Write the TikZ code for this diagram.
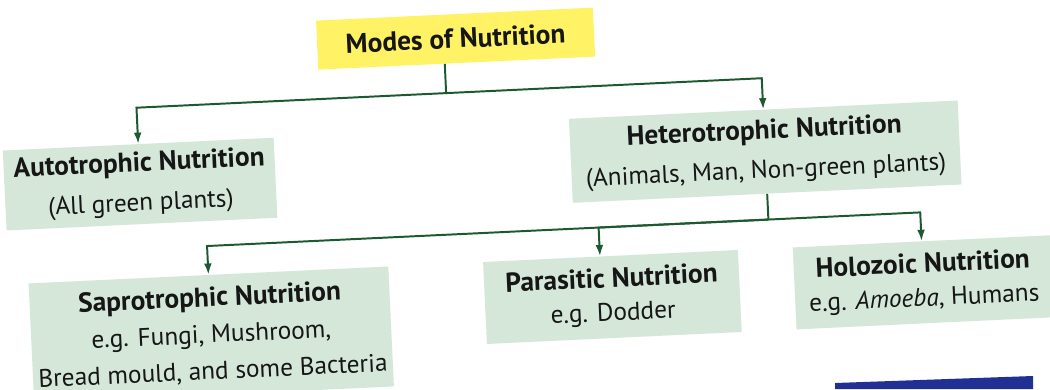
\documentclass[tikz,border=0pt]{standalone}
\usepackage{fontspec}
\setmainfont{PT Sans}
\usetikzlibrary{arrows.meta,calc}
\definecolor{boxgreen}{RGB}{212,231,216}
\definecolor{boxyellow}{RGB}{255,242,100}
\definecolor{linegreen}{RGB}{28,88,48}
\definecolor{txt}{RGB}{22,22,22}
\definecolor{navy}{RGB}{32,48,148}
\newcommand\boxtitle[1]{{\fontsize{19.5}{20}\selectfont\bfseries #1}}
\begin{document}
\begin{tikzpicture}[x=0.025cm,y=-0.025cm,
  box/.style={fill=boxgreen, inner sep=0pt, align=center, text=txt,
    font=\fontsize{18}{#1}\selectfont},
  box/.default=26.5pt,
  conn/.style={draw=linegreen, line width=1.4pt},
  arr/.style={conn, -{Latex[length=8pt,width=5.5pt]}}]
\useasboundingbox[fill=white] (0,0) rectangle (1050,389);
\fill[navy] (835,383) -- (1033,376) -- (1033,389) -- (835,389) -- cycle;
\begin{scope}[rotate around={2.7:(525,195)}, transform shape]
  \node[box, fill=boxyellow, minimum width=6.925cm, minimum height=1.225cm]
    (modes) at (463,35.5) {\boxtitle{Modes of Nutrition}};
  \node[box=28pt, minimum width=6.775cm, minimum height=2.0cm]
    (auto) at (141,166) {\boxtitle{Autotrophic Nutrition}\\(All green plants)};
  \node[box=28pt, minimum width=9.725cm, minimum height=2.1cm]
    (hetero) at (767,163) {\boxtitle{Heterotrophic Nutrition}\\(Animals, Man, Non-green plants)};
  \node[box=26pt, minimum width=9.0cm, minimum height=3.0cm]
    (sapro) at (205,320) {\boxtitle{Saprotrophic Nutrition}\\e.g. Fungi, Mushroom,\\Bread mould, and some Bacteria};
  \node[box=24pt, minimum width=6.375cm, minimum height=2.05cm]
    (para) at (607.5,301) {\boxtitle{Parasitic Nutrition}\\e.g. Dodder};
  \node[box=24pt, minimum width=6.45cm, minimum height=2.05cm]
    (holo) at (919,301) {\boxtitle{Holozoic Nutrition}\\e.g. \textit{Amoeba}, Humans};
  % first level connectors
  \coordinate (j1) at (451,89.5);
  \coordinate (c1) at (141,89.5);
  \coordinate (c2) at (767,89.5);
  \coordinate (ms) at ($(modes.south west)!0.457!(modes.south east)$);
  \draw[conn] (ms) -- (j1);
  \draw[arr] (j1) -- (c1) -- (auto.north);
  \draw[arr] (j1) -- (c2) -- (hetero.north);
  % second level connectors
  \coordinate (j2) at (767,231);
  \coordinate (c3) at (205,231);
  \coordinate (c4) at (597,231);
  \coordinate (c5) at (919,231);
  \coordinate (pn) at ($(para.north west)!0.459!(para.north east)$);
  \draw[conn] (hetero.south) -- (j2);
  \draw[arr] (j2) -- (c3) -- (sapro.north);
  \draw[arr] (j2) -- (c4) -- (pn);
  \draw[arr] (j2) -- (c5) -- (holo.north);
\end{scope}
\end{tikzpicture}
\end{document}
